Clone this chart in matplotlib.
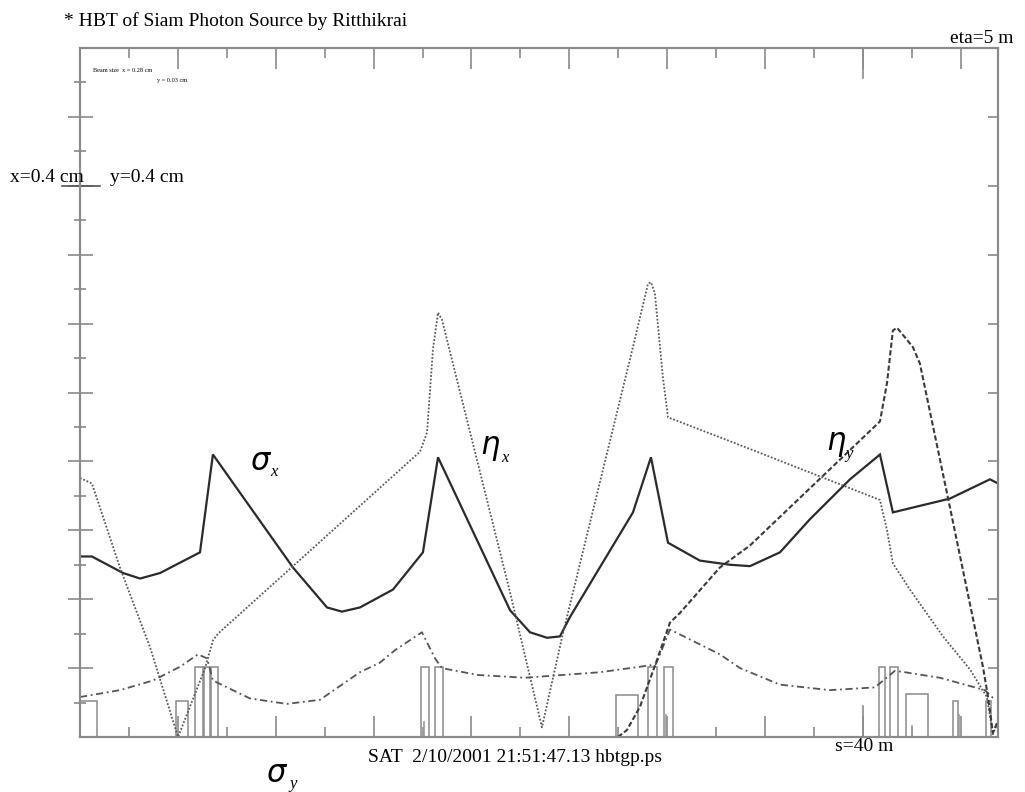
import numpy as np
import matplotlib.pyplot as plt
from matplotlib.patches import Rectangle

plt.rcParams['font.family'] = ['Liberation Serif', 'DejaVu Serif']

# path length s (m) and beam sizes (cm)
sx_s = [0.0, 0.61, 2.20, 3.07, 4.09, 6.13, 6.79, 10.88, 12.62, 13.38, 14.30, 15.99,
        17.52, 18.29, 21.97, 22.99, 23.86, 24.52, 25.03, 28.25, 29.17, 30.04, 31.67,
        33.21, 34.23, 35.76, 37.29, 39.34, 40.87, 41.53, 42.40, 44.44, 46.49, 46.90]
sigma_x = [0.131, 0.131, 0.119, 0.115, 0.119, 0.134, 0.205, 0.123, 0.094, 0.091, 0.094, 0.107,
           0.134, 0.203, 0.092, 0.076, 0.072, 0.073, 0.087, 0.163, 0.203, 0.141, 0.128,
           0.125, 0.124, 0.134, 0.158, 0.187, 0.205, 0.163, 0.166, 0.173, 0.187, 0.184]

sy_s = [0.0, 2.04, 3.73, 5.11, 6.03, 6.49, 6.79, 8.68, 10.57, 12.26, 14.30, 15.33, 16.09,
        17.47, 18.14, 18.49, 20.33, 22.73, 26.56, 29.12, 29.43, 30.14, 32.69, 33.72,
        35.76, 38.31, 40.61, 41.63, 42.15, 43.93, 46.23, 46.74]
sigma_y = [0.029, 0.034, 0.041, 0.051, 0.060, 0.057, 0.041, 0.028, 0.024, 0.027, 0.047, 0.054, 0.063,
           0.076, 0.057, 0.050, 0.045, 0.043, 0.047, 0.052, 0.053, 0.078, 0.060, 0.050,
           0.038, 0.034, 0.036, 0.048, 0.047, 0.043, 0.034, 0.027]

# dispersion (m)
ex_s = [0.0, 0.61, 2.04, 3.58, 5.01, 6.39, 6.79, 7.05, 17.37, 17.73, 18.03, 18.29, 18.49,
        21.97, 23.60, 24.67, 28.25, 29.02, 29.17, 29.37, 29.78, 30.04, 34.23, 40.87,
        41.23, 41.53, 42.40, 44.09, 45.47, 46.33, 46.64, 46.90]
eta_x = [1.88, 1.84, 1.23, 0.65, 0.0, 0.50, 0.70, 0.75, 2.07, 2.21, 2.81, 3.08, 3.03,
         1.05, 0.07, 0.75, 2.83, 3.29, 3.30, 3.22, 2.61, 2.32, 2.09, 1.72,
         1.50, 1.26, 1.07, 0.73, 0.49, 0.29, 0.02, 0.11]

ey_s = [27.48, 27.94, 28.61, 29.48, 30.14, 30.65, 32.69, 34.23, 40.87, 41.23, 41.53,
        41.74, 42.55, 42.91, 44.44, 46.13, 46.38, 46.64, 46.90]
eta_y = [0.0, 0.05, 0.22, 0.56, 0.83, 0.90, 1.23, 1.39, 2.29, 2.57, 2.95,
         2.97, 2.83, 2.71, 1.67, 0.51, 0.30, 0.03, 0.12]

# lattice elements: start (m), length (m), height (fraction of frame)
elem_s = [0.0, 4.90, 5.87, 6.33, 6.69, 17.42, 18.14, 27.38, 29.02, 29.83, 40.82, 41.38, 42.20, 44.60, 46.28]
elem_len = [0.87, 0.62, 0.41, 0.31, 0.36, 0.41, 0.40, 1.13, 0.46, 0.46, 0.30, 0.41, 1.12, 0.25, 0.26]
elem_h = [0.052, 0.052, 0.102, 0.102, 0.102, 0.102, 0.102, 0.061, 0.102, 0.102, 0.102, 0.102, 0.062, 0.052, 0.052]
thin_s = [17.55, 29.95, 42.50, 44.90]
thin_h = [0.022, 0.032, 0.016, 0.032]

W, H = 1025, 792
fig = plt.figure(figsize=(W / 100, H / 100), dpi=100)
x0, x1, y0, y1 = 80, 998, 48, 737
ax = fig.add_axes([x0 / W, 1 - y1 / H, (x1 - x0) / W, (y1 - y0) / H])
ax.set_xlim(0, 46.9)
ax.set_ylim(0, 0.5)
ax2 = ax.twinx()
ax2.set_ylim(0, 5)

frame = '#8a8a8a'
for a in (ax, ax2):
    for sp in a.spines.values():
        sp.set_color(frame)
        sp.set_linewidth(1.5)

ax.set_xticks(np.arange(0, 46, 5))
ax.set_xticks(np.arange(2.5, 46, 5), minor=True)
ax.set_yticks(np.arange(0.05, 0.5, 0.05))
ax.set_yticks(np.arange(0.025, 0.5, 0.05), minor=True)
ax.tick_params(axis='x', which='both', top=True, bottom=True, direction='in',
               labelbottom=False, color=frame, width=1.2)
ax.tick_params(axis='x', which='major', length=15)
ax.tick_params(axis='x', which='minor', length=7)
ax.tick_params(axis='y', which='both', left=True, right=False, direction='inout',
               labelleft=False, color=frame, width=1.2)
ax.tick_params(axis='y', which='major', length=18)
ax.tick_params(axis='y', which='minor', length=9)
ax2.set_yticks(np.arange(0.5, 5, 0.5))
ax2.tick_params(axis='y', which='both', right=True, left=False, direction='in',
                labelright=False, color=frame, width=1.2, length=7)

# marker ticks for s=40 m and 0.4 cm
xt = ax.get_xaxis_transform()
ax.plot([40, 40], [0, 0.045], transform=xt, color=frame, lw=1.2, clip_on=False)
ax.plot([40, 40], [1, 1 - 0.044], transform=xt, color=frame, lw=1.2, clip_on=False)
ax.plot([-0.0196, 0.0218], [0.4, 0.4], transform=ax.get_yaxis_transform(),
        color='#555555', lw=1.2, clip_on=False)

for s, l, h in zip(elem_s, elem_len, elem_h):
    ax.add_patch(Rectangle((s, 0), l, h, transform=xt, fill=False,
                           edgecolor='#8a8a8a', lw=1.1))
for s, h in zip(thin_s, thin_h):
    ax.plot([s, s], [0, h], transform=xt, color='#9a9a9a', lw=1.2)

ax.plot(sx_s, sigma_x, color='#2b2b2b', lw=1.6, solid_joinstyle='miter')
ax.plot(sy_s, sigma_y, color='#555555', lw=1.3, linestyle=(0, (4, 2, 1, 2)))
ax2.plot(ex_s, eta_x, color='#5a5a5a', lw=1.3, linestyle=(0, (1, 1)))
ax2.plot(ey_s, eta_y, color='#3a3a3a', lw=1.5, linestyle=(0, (2.5, 1.2)))


def ftext(x, y, s, **kw):
    fig.text(x / W, 1 - y / H, s, va='baseline', **kw)


ftext(64, 26, '* HBT of Siam Photon Source by Ritthikrai', fontsize=14)
ftext(950, 43, 'eta=5 m', fontsize=14)
ftext(10, 182, 'x=0.4 cm', fontsize=14)
ftext(110, 182, 'y=0.4 cm', fontsize=14)
ftext(368, 762, 'SAT  2/10/2001 21:51:47.13 hbtgp.ps', fontsize=14)
ftext(835, 751, 's=40 m', fontsize=14)
ftext(93, 72, 'Beam size  x = 0.28 cm', fontsize=4.5)
ftext(157, 82, 'y = 0.03 cm', fontsize=4.5)


# curve labels: greek letter with a small italic subscript
def greek(x, y, letter, sub, dx, dy):
    ftext(x, y, letter, fontsize=22, family='DejaVu Sans', style='italic')
    ftext(x + dx, y + dy, sub, fontsize=12, style='italic')


greek(250, 470, '\u03c3', 'x', 20, 6)
greek(480, 454, '\u03b7', 'x', 21, 8)
greek(826, 450, '\u03b7', 'y', 19, 8)
greek(266, 782, '\u03c3', 'y', 23, 6)

fig.savefig('out.png', dpi=100)
